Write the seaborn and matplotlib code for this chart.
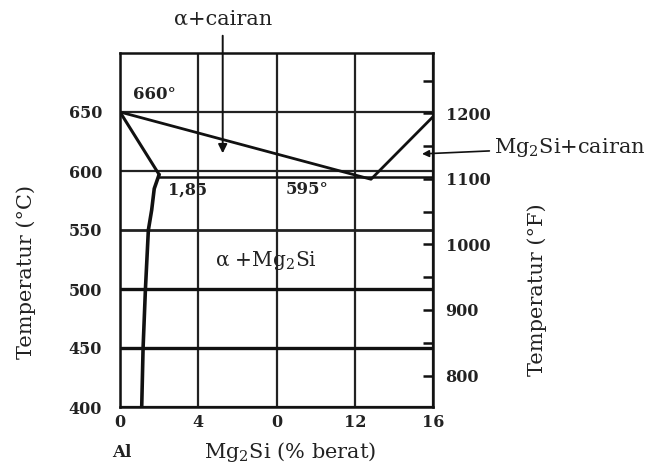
import matplotlib
matplotlib.use("Agg")
import matplotlib.pyplot as plt
from matplotlib.ticker import FixedLocator
import seaborn as sns
import numpy as np

# ---- data ----
liquidus_x = [0, 12.83, 16]
liquidus_y = [650, 593, 646]
solidus_x = [0, 2.0]
solidus_y = [650, 597]
solvus_x = [2.0, 1.75, 1.62, 1.45, 1.30, 1.18, 1.11]
solvus_y = [597, 585, 567, 550, 500, 450, 400]
eutectic_x = [2.0, 16]
eutectic_y = [595, 595]

x_ticks = [0, 4, 8, 12, 16]
x_tick_labels = ["0", "4", "0", "12", "16"]
c_ticks = [400, 450, 500, 550, 600, 650]
f_major = [800, 900, 1000, 1100, 1200]
f_minor = [850, 950, 1050, 1150, 1250]

sns.set_theme(style="white")
plt.rcParams["font.family"] = ["DejaVu Serif", "DejaVu Sans"]
plt.rcParams["mathtext.fontset"] = "dejavuserif"

fig = plt.figure(figsize=(6.67, 4.67), dpi=100)
ax = fig.add_axes([120/667, 1-407/467, 313/667, 354/467])

ax.set_xlim(0, 16)
ax.set_ylim(400, 700)
ax.set_xticks(x_ticks)
ax.set_xticklabels(x_tick_labels)
ax.set_yticks(c_ticks)
ax.grid(True, color="#222222", lw=1.6)
ax.set_axisbelow(True)
# heavier horizontal rules at 450 and 500 as in the reference
for val, gl in zip(c_ticks, ax.get_ygridlines()):
    if val in (450, 500):
        gl.set_linewidth(2.4)
        gl.set_color("#111111")
    elif val == 550:
        gl.set_linewidth(2.0)
for s in ax.spines.values():
    s.set_color("#111111")
    s.set_linewidth(1.8)
ax.tick_params(axis="both", length=0, labelsize=11.5, colors="#222222")
ax.tick_params(axis="y", pad=13)
ax.tick_params(axis="x", pad=5)
for lab in ax.get_xticklabels() + ax.get_yticklabels():
    lab.set_fontweight("bold")

sns.lineplot(x=liquidus_x, y=liquidus_y, ax=ax, sort=False, estimator=None,
             color="#111111", lw=2.0)
sns.lineplot(x=solidus_x, y=solidus_y, ax=ax, sort=False, estimator=None,
             color="#111111", lw=2.2)
sns.lineplot(x=solvus_x, y=solvus_y, ax=ax, sort=False, estimator=None,
             color="#111111", lw=2.6)
sns.lineplot(x=eutectic_x, y=eutectic_y, ax=ax, sort=False, estimator=None,
             color="#111111", lw=1.8)

# Fahrenheit axis
def c2f(c):
    return c * 9 / 5 + 32

ax2 = ax.twinx()
ax2.set_ylim(c2f(400), c2f(700))
ax2.yaxis.set_major_locator(FixedLocator(f_major))
ax2.yaxis.set_minor_locator(FixedLocator(f_minor))
ax2.tick_params(axis="y", which="both", direction="in", length=7, width=1.8,
                color="#111111", labelsize=11.5, pad=9, colors="#222222")
ax2.tick_params(axis="y", which="both", color="#111111")
ax2.grid(False)
for s in ax2.spines.values():
    s.set_visible(False)
for lab in ax2.get_yticklabels():
    lab.set_fontweight("bold")

# annotations
ax.text(1.74, 664.5, "660°", ha="center", va="center", fontsize=12,
        fontweight="bold", color="#222222")
ax.text(3.45, 584, "1,85", ha="center", va="center", fontsize=11.5,
        fontweight="bold", color="#222222")
ax.text(9.54, 584, "595°", ha="center", va="center", fontsize=12,
        fontweight="bold", color="#222222")
ax.text(7.46, 524.5, r"α +Mg$_\mathrm{2}$Si", ha="center", va="center",
        fontsize=14.5, color="#222222")

ax.annotate("α+cairan", xy=(5.25, 615), xytext=(5.25, 729),
            ha="center", va="center", fontsize=15, color="#222222",
            annotation_clip=False,
            arrowprops=dict(arrowstyle="-|>", color="#111111", lw=1.4,
                            shrinkA=3, shrinkB=0, mutation_scale=13))
ax.annotate(r"Mg$_\mathrm{2}$Si+cairan", xy=(15.44, 614.5), xytext=(19.12, 620),
            ha="left", va="center", fontsize=15, color="#222222",
            annotation_clip=False,
            arrowprops=dict(arrowstyle="-|>", color="#111111", lw=1.2,
                            shrinkA=1, shrinkB=0, mutation_scale=10))

# axis labels
ax.text(-0.300, 0.381, "Temperatur (°C)", transform=ax.transAxes, rotation=90,
        ha="center", va="center", fontsize=15, color="#222222")
ax.text(1.332, 0.33, "Temperatur (°F)", transform=ax.transAxes, rotation=90,
        ha="center", va="center", fontsize=15, color="#222222")
ax.text(0.006, -0.128, "Al", transform=ax.transAxes, ha="center", va="center",
        fontsize=12, fontweight="bold", color="#222222")
ax.text(0.543, -0.128, r"Mg$_\mathrm{2}$Si (% berat)", transform=ax.transAxes,
        ha="center", va="center", fontsize=15, color="#222222")

fig.savefig("out.png", dpi=100)
